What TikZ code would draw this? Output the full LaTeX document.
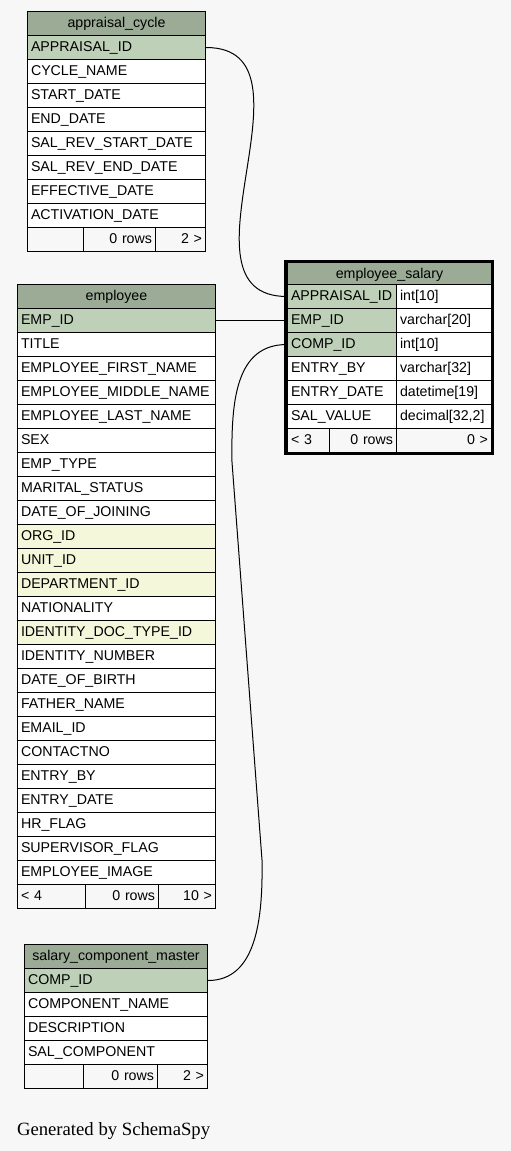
\documentclass[tikz,border=0pt]{standalone}
\usepackage{fontspec}
\setmainfont{Liberation Sans}
\newfontfamily\genfont{Liberation Serif}
\definecolor{bgcol}{HTML}{F7F7F7}
\definecolor{headcol}{HTML}{9BAB96}
\definecolor{keycol}{HTML}{BED1B8}
\definecolor{idxcol}{HTML}{F4F7DA}
\newcommand\tabfont{\fontsize{14.2}{16}\selectfont}
\begin{document}
\begin{tikzpicture}[x=1pt,y=-1pt,line width=1pt,
  tcell/.style={draw,fill=white,anchor=north west,inner xsep=3.5pt,inner ysep=0pt,
    minimum height=24pt,text height=16pt,text depth=8pt,align=left,font=\tabfont},
  thead/.style={tcell,fill=headcol,align=center},
  tkey/.style={tcell,fill=keycol},
  tidx/.style={tcell,fill=idxcol},
  tcol/.style={tcell},
  tfoot/.style={tcell,fill=bgcol}]
\fill[bgcol] (0,0) rectangle (511,1151);
\useasboundingbox (0,0) rectangle (511,1151);
% appraisal_cycle
\node[thead,text width=171pt] (ac) at (27,11) {appraisal\_cycle};
\foreach \s/\t [count=\i] in {tkey/APPRAISAL\_ID,tcol/CYCLE\_NAME,tcol/START\_DATE,tcol/END\_DATE,
  tcol/SAL\_REV\_START\_DATE,tcol/SAL\_REV\_END\_DATE,tcol/EFFECTIVE\_DATE,tcol/ACTIVATION\_DATE}
  \node[\s,text width=171pt] (ac-\i) at (27,{11+24*\i}) {\t};
\node[tfoot,text width=49pt] (ac-f1) at (27,227) {};
\node[tfoot,text width=65pt,align=right] (ac-f2) at (83,227) {0 rows};
\node[tfoot,text width=43pt,align=right] (ac-f3) at (155,227) {2 >};
% employee
\node[thead,text width=191pt] (emp) at (17,284) {employee};
\foreach \s/\t [count=\i] in {tkey/EMP\_ID,tcol/TITLE,tcol/EMPLOYEE\_FIRST\_NAME,tcol/EMPLOYEE\_MIDDLE\_NAME,
  tcol/EMPLOYEE\_LAST\_NAME,tcol/SEX,tcol/EMP\_TYPE,tcol/MARITAL\_STATUS,tcol/DATE\_OF\_JOINING,
  tidx/ORG\_ID,tidx/UNIT\_ID,tidx/DEPARTMENT\_ID,tcol/NATIONALITY,tidx/IDENTITY\_DOC\_TYPE\_ID,
  tcol/IDENTITY\_NUMBER,tcol/DATE\_OF\_BIRTH,tcol/FATHER\_NAME,tcol/EMAIL\_ID,tcol/CONTACTNO,
  tcol/ENTRY\_BY,tcol/ENTRY\_DATE,tcol/HR\_FLAG,tcol/SUPERVISOR\_FLAG,tcol/EMPLOYEE\_IMAGE}
  \node[\s,text width=191pt] (emp-\i) at (17,{284+24*\i}) {\t};
\node[tfoot,text width=61pt] (emp-f1) at (17,884) {< 4};
\node[tfoot,text width=66pt,align=right] (emp-f2) at (85,884) {0 rows};
\node[tfoot,text width=50pt,align=right] (emp-f3) at (158,884) {10 >};
% salary_component_master
\node[thead,text width=176pt] (scm) at (24,944) {salary\_component\_master};
\foreach \s/\t [count=\i] in {tkey/COMP\_ID,tcol/COMPONENT\_NAME,tcol/DESCRIPTION,tcol/SAL\_COMPONENT}
  \node[\s,text width=176pt] (scm-\i) at (24,{944+24*\i}) {\t};
\node[tfoot,text width=52pt] (scm-f1) at (24,1064) {};
\node[tfoot,text width=67pt,align=right] (scm-f2) at (83,1064) {0 rows};
\node[tfoot,text width=43pt,align=right] (scm-f3) at (157,1064) {2 >};
% employee_salary
\node[thead,text width=197pt,minimum height=22pt,text depth=6pt] (es) at (287,262) {employee\_salary};
\foreach \s/\t/\d [count=\i] in {tkey/APPRAISAL\_ID/int[10],tkey/EMP\_ID/varchar[20],tkey/COMP\_ID/int[10],
  tcol/ENTRY\_BY/varchar[32],tcol/ENTRY\_DATE/datetime[19],tcol/SAL\_VALUE/{decimal[32,2]}}{
  \node[\s,text width=102pt] (es-\i) at (287,{260+24*\i}) {\t};
  \node[tcol,text width=88pt] (es-\i-t) at (396,{260+24*\i}) {\d};
}
\node[tfoot,text width=35pt] (es-f1) at (287,428) {< 3};
\node[tfoot,text width=60pt,align=right] (es-f2) at (329,428) {0 rows};
\node[tfoot,text width=88pt,align=right] (es-f3) at (396,428) {0 >};
\draw[line width=3pt] (285.5,261.5) rectangle (492.5,453.5);
% relations
\coordinate (c3a) at (262,860);
\coordinate (c3b) at (232,462);
\draw (ac-1.east) .. controls +(120,0) and +(-120,0) .. (es-1.west);
\draw (emp-1.east) -- (es-2.west);
\draw (scm-1.east) .. controls +(48,0) and +(1,60) .. (c3a) -- (c3b)
  .. controls +(-1,-62) and +(-51,0) .. (es-3.west);
\node[anchor=base west,inner sep=0pt,font=\genfont\fontsize{18.7}{20}\selectfont] (gen) at (16.5,1135) {Generated by SchemaSpy};
\end{tikzpicture}
\end{document}
